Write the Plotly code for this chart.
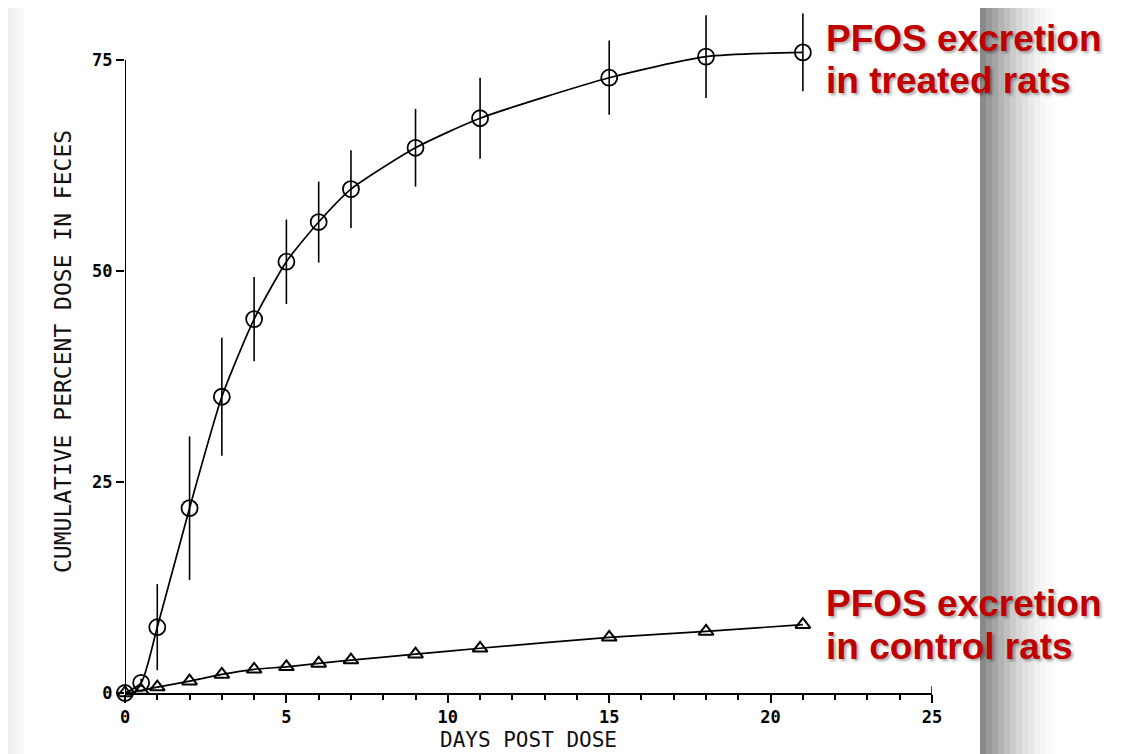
import plotly.graph_objects as go

# ---- data ----
days = [0, 0.5, 1, 2, 3, 4, 5, 6, 7, 9, 11, 15, 18, 21]
treated = [0, 1.2, 7.8, 21.9, 35.1, 44.3, 51.1, 55.8, 59.7, 64.6, 68.1, 72.9, 75.4, 75.9]
treated_err = [0, 0.5, 5.1, 8.5, 7.0, 5.0, 5.0, 4.8, 4.6, 4.6, 4.8, 4.4, 4.9, 4.6]
control = [0, 0.3, 0.7, 1.4, 2.2, 2.8, 3.1, 3.5, 3.9, 4.6, 5.3, 6.6, 7.3, 8.1]
x_ticks = [0, 5, 10, 15, 20, 25]
y_ticks = [0, 25, 50, 75]
x_title = "DAYS POST DOSE"
y_title = "CUMULATIVE PERCENT DOSE IN FECES"
label_treated = ["PFOS excretion", "in treated rats"]
label_control = ["PFOS excretion", "in control rats"]

OFF = 8  # page body margin
W, H = 1132 - OFF, 754 - OFF
ML, MR, MT = 125 - OFF, (1132 - OFF) - (932 - OFF), 10 - OFF
MB = H - (693 - OFF)
PW, PH = W - ML - MR, H - MT - MB


def px(xp):  # page pixel -> paper x
    return (xp - OFF - ML) / PW


def py(yp):  # page pixel -> paper y
    return (H - MB - (yp - OFF)) / PH


mono = "DejaVu Sans Mono"

fig = go.Figure()
fig.add_trace(go.Scatter(
    x=days, y=treated, mode="lines+markers",
    line=dict(color="black", width=1.7, shape="spline", smoothing=0.6),
    marker=dict(symbol="circle-open", size=16, color="black", line=dict(width=1.8)),
    error_y=dict(type="data", array=treated_err, width=0, thickness=1.6, color="black"),
    cliponaxis=False, showlegend=False,
))
fig.add_trace(go.Scatter(
    x=days, y=control, mode="lines+markers",
    line=dict(color="black", width=1.7, shape="spline", smoothing=0.6),
    marker=dict(symbol="triangle-up-open", size=13, color="black", line=dict(width=2)),
    cliponaxis=False, showlegend=False,
))

shapes = []
left_cols = ["#f0f0f0", "#f3f3f3", "#f6f6f6", "#f9f9f9"]
for i, c in enumerate(left_cols):
    shapes.append(dict(type="rect", xref="paper", yref="paper", x0=px(8 + i * 4), x1=px(12 + i * 4),
                       y0=py(754), y1=py(8), fillcolor=c, line_width=0, layer="below"))
shadow = ["#8a8a8a", "#999999", "#a5a5a5", "#b3b3b3", "#bfbfbf", "#cbcbcb", "#d6d6d6",
          "#e0e0e0", "#e8e8e8", "#f0f0f0", "#f6f6f6", "#fafafa", "#fdfdfd"]
for i, c in enumerate(shadow):
    shapes.append(dict(type="rect", xref="paper", yref="paper", x0=px(980 + i * 6), x1=px(986 + i * 6),
                       y0=py(754), y1=py(8), fillcolor=c, line_width=0, layer="below"))
# y axis line (ends at 75)
shapes.append(dict(type="line", xref="x", yref="y", x0=0, x1=0, y0=0, y1=75,
                   line=dict(color="black", width=2)))
shapes.append(dict(type="line", xref="x", yref="y", x0=25, x1=25, y0=0, y1=0.8,
                   line=dict(color="black", width=1.5)))

ann = []
ann.append(dict(text=x_title, x=px(528), y=py(740), xref="paper", yref="paper", showarrow=False,
                xanchor="center", yanchor="middle",
                font=dict(family=mono, size=21, color="#111111")))
ann.append(dict(text=y_title, x=px(63), y=py(352), xref="paper", yref="paper", showarrow=False,
                xanchor="center", yanchor="middle", textangle=-90,
                font=dict(family=mono, size=23, color="#111111")))
red = dict(family="Liberation Sans", size=37, color="#c00000", weight="bold",
           shadow="2px 2px 3px rgba(0,0,0,0.35)")
for lines, ys in ((label_treated, (38, 81)), (label_control, (603, 646))):
    for t, yy in zip(lines, ys):
        ann.append(dict(text=t, x=px(824), y=py(yy), xref="paper", yref="paper", showarrow=False,
                        xanchor="left", yanchor="middle", font=red))

tick_font = dict(family=mono, size=17, color="black", weight="bold")
fig.update_layout(
    width=W, height=H, margin=dict(l=ML, r=MR, t=MT, b=MB),
    paper_bgcolor="white", plot_bgcolor="rgba(0,0,0,0)",
    shapes=shapes, annotations=ann,
    xaxis=dict(range=[0, 25], tickvals=x_ticks, ticktext=[str(v) for v in x_ticks],
               showgrid=False, zeroline=False, showline=True, linecolor="black", linewidth=2,
               ticks="outside", ticklen=8, tickwidth=2, tickcolor="black", tickfont=tick_font,
               minor=dict(dtick=1, ticks="outside", ticklen=5, tickwidth=1.5, tickcolor="black")),
    yaxis=dict(range=[0, PH / (633 / 75)], tickvals=y_ticks, ticktext=[str(v) for v in y_ticks],
               showgrid=False, zeroline=False, showline=False,
               ticks="outside", ticklen=8, tickwidth=1.5, tickcolor="black", tickfont=tick_font),
)

fig.write_html("out.html")
